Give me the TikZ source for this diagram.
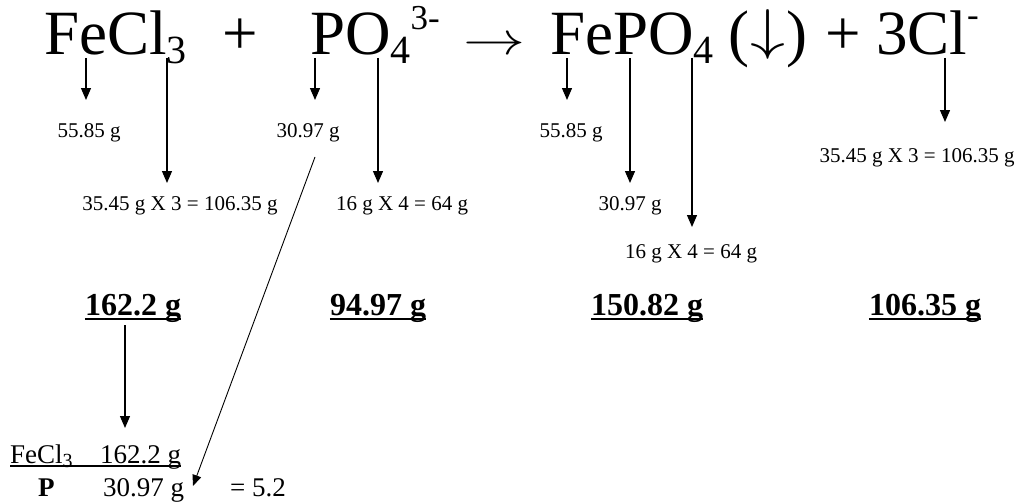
\documentclass[tikz,border=0pt]{standalone}
\usepackage{fontspec}
\setmainfont{Liberation Serif}
\newfontfamily\eqfont{Liberation Serif}
\usetikzlibrary{arrows.meta}
\newcommand{\bigf}{\eqfont\fontsize{63}{63}\selectfont}
\newcommand{\subf}{\fontsize{40}{40}\selectfont}
\newcommand{\supf}{\fontsize{35}{35}\selectfont}
\newcommand{\lblf}{\fontsize{21}{21}\selectfont}
\newcommand{\totf}{\fontsize{32}{32}\selectfont\bfseries}
\newcommand{\fracf}{\fontsize{27}{27}\selectfont}
\newcommand{\lowsub}[1]{\raisebox{-9pt}{\subf #1}}
\newcommand{\tenpt}{\fontsize{10}{10}\selectfont}
\begin{document}
\begin{tikzpicture}[x=1pt,y=-1pt,
  eq/.style={inner sep=0pt, anchor=base west, font=\bigf},
  lbl/.style={inner sep=0pt, anchor=base, font=\lblf},
  tot/.style={inner sep=0pt, anchor=base, font=\totf},
  frc/.style={inner sep=0pt, anchor=base west, font=\fracf},
  arr/.style={line width=1.3pt, -{Triangle[width=10pt,length=12pt]}},
  diagarr/.style={line width=0.9pt, -{Triangle[width=9pt,length=11pt]}},
  uline/.style={line width=2.2pt}]
\useasboundingbox[fill=white] (0,0) rectangle (1022,503);

% reaction equation
\node[eq] (fecl) at (44,55) {FeCl\lowsub{3}};
\node[eq,anchor=base] (plus1) at (240,55) {+};
\node[eq] (po) at (310,55) {PO\lowsub{4}\raisebox{25pt}{\supf 3-}};
\node[eq,anchor=base] (rarr) at (494,55) {\scalebox{6.2}[4.6]{\tenpt$\rightarrow$}};
\node[eq] (fepo) at (550,55) {FePO\lowsub{4}};
\node[eq] (ppt) at (728,55) {(\hspace{1pt}\raisebox{6pt}{\scalebox{7}[5.6]{\tenpt$\downarrow$}}\hspace{1pt})};
\node[eq,anchor=base] (plus2) at (843,55) {+};
\node[eq] (cl) at (876,55) {3Cl\raisebox{28pt}{\supf -}};

% component labels
\node[lbl] (l1) at (89,137) {55.85 g};
\node[lbl] (l2) at (180,210) {35.45 g X 3 = 106.35 g};
\node[lbl] (l3) at (308,137) {30.97 g};
\node[lbl] (l4) at (402,210) {16 g X 4 = 64 g};
\node[lbl] (r1) at (571,137) {55.85 g};
\node[lbl] (r2) at (630,210) {30.97 g};
\node[lbl] (r3) at (691,258) {16 g X 4 = 64 g};
\node[lbl] (r4) at (917,162) {35.45 g X 3 = 106.35 g};

% totals
\node[tot] (t1) at (133,315) {162.2 g};
\node[tot] (t2) at (378,315) {94.97 g};
\node[tot] (t3) at (647,315) {150.82 g};
\node[tot] (t4) at (925,315) {106.35 g};
\foreach \t in {t1,t2,t3,t4}
  \draw[uline] ([yshift=-4pt]\t.base west) -- ([yshift=-4pt]\t.base east);

% fraction
\node[frc] (ffe) at (10,463) {FeCl\raisebox{-4pt}{\fontsize{20}{20}\selectfont 3}};
\node[frc] (fm) at (100,463) {162.2 g};
\node[frc,font=\fracf\bfseries] (fp) at (38,496) {P};
\node[frc] (fd) at (103,496) {30.97 g};
\node[frc] (fr) at (230,496) {= 5.2};
\draw[line width=2pt] ([yshift=-3pt]ffe.base west) -- ([yshift=-3pt]fm.base east);

% connector ends
\coordinate (a1) at (86,58);   \coordinate (a1e) at (86,100);
\coordinate (a2) at (167,58);  \coordinate (a2e) at (167,183);
\coordinate (a3) at (315,58);  \coordinate (a3e) at (315,100);
\coordinate (a4) at (378,58);  \coordinate (a4e) at (378,183);
\coordinate (b1) at (567,58);  \coordinate (b1e) at (567,100);
\coordinate (b2) at (630,58);  \coordinate (b2e) at (630,183);
\coordinate (b3) at (692,58);  \coordinate (b3e) at (692,227);
\coordinate (c1) at (945,58);  \coordinate (c1e) at (945,122);
\coordinate (d1) at (315,157); \coordinate (d1e) at (193,486);
\coordinate (s1) at (125,325); \coordinate (s1e) at (125,428);

\draw[arr] (a1) -- (a1e);
\draw[arr] (a2) -- (a2e);
\draw[arr] (a3) -- (a3e);
\draw[arr] (a4) -- (a4e);
\draw[arr] (b1) -- (b1e);
\draw[arr] (b2) -- (b2e);
\draw[arr] (b3) -- (b3e);
\draw[arr] (c1) -- (c1e);
\draw[diagarr] (d1) -- (d1e);
\draw[arr] (s1) -- (s1e);
\end{tikzpicture}
\end{document}
